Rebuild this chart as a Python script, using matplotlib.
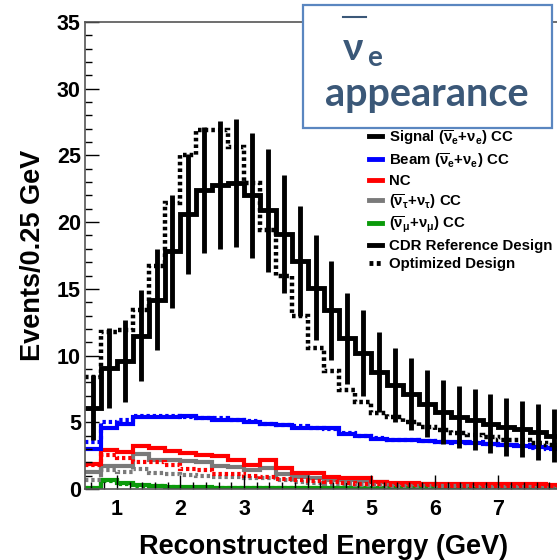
import numpy as np
import matplotlib
matplotlib.use("Agg")
import matplotlib.pyplot as plt
from matplotlib.lines import Line2D
from matplotlib.patches import Rectangle

plt.rcParams['font.family'] = ['Liberation Sans', 'DejaVu Sans']
plt.rcParams['mathtext.fontset'] = 'custom'
plt.rcParams['mathtext.rm'] = 'Liberation Sans:bold'
plt.rcParams['mathtext.it'] = 'Liberation Sans:bold'
plt.rcParams['mathtext.bf'] = 'Liberation Sans:bold'
plt.rcParams['mathtext.default'] = 'bf'

# bins of 0.25 GeV from 0.5 to 8 GeV
edges = np.arange(0.5, 8.01, 0.25)
centers = 0.5 * (edges[:-1] + edges[1:])

# signal, CDR reference design (solid) and optimized design (dotted)
sig_cdr = [6.1, 9.1, 9.6, 11.5, 14.2, 17.8, 20.6, 22.4, 22.8, 22.9,
           22.0, 20.9, 19.1, 17.1, 15.1, 13.4, 11.3, 10.2, 8.8, 7.8,
           7.1, 6.4, 5.8, 5.4, 5.2, 4.9, 4.65, 4.5, 4.3, 4.0]
sig_err = [2.45, 3.0, 3.1, 3.4, 3.8, 4.2, 4.5, 4.7, 4.8, 4.8,
           4.7, 4.6, 4.4, 4.1, 3.9, 3.7, 3.4, 3.2, 3.0, 2.8,
           2.7, 2.5, 2.4, 2.3, 2.3, 2.2, 2.15, 2.1, 2.1, 2.0]
sig_opt = [8.4, 11.8, 11.9, 13.4, 16.7, 21.4, 25.0, 26.9, 26.9, 25.6,
           22.9, 19.4, 16.0, 13.0, 10.6, 8.85, 7.4, 6.5, 5.7, 5.4,
           5.0, 4.65, 4.4, 4.2, 4.05, 3.9, 3.7, 3.7, 3.45, 3.3]

beam_cdr = [3.0, 4.6, 4.9, 5.4, 5.4, 5.4, 5.5, 5.3, 5.2, 5.2,
            5.0, 4.9, 4.8, 4.6, 4.6, 4.6, 4.1, 4.0, 3.75, 3.7,
            3.65, 3.6, 3.55, 3.5, 3.45, 3.4, 3.3, 3.2, 3.15, 3.05]
beam_opt = [3.5, 5.0, 5.2, 5.5, 5.5, 5.5, 5.4, 5.3, 5.3, 5.2,
            5.1, 4.9, 4.8, 4.7, 4.6, 4.5, 4.2, 4.0, 3.8, 3.7,
            3.7, 3.6, 3.5, 3.45, 3.5, 3.4, 3.3, 3.3, 3.1, 3.0]

nc_cdr = [1.9, 2.9, 2.8, 3.2, 3.1, 2.85, 2.7, 2.55, 2.5, 2.2,
          1.8, 2.2, 1.55, 1.2, 1.2, 0.9, 0.85, 0.8, 0.5, 0.45,
          0.45, 0.4, 0.4, 0.4, 0.4, 0.35, 0.35, 0.35, 0.35, 0.3]
nc_opt = [1.8, 2.55, 2.3, 2.0, 2.0, 1.8, 1.5, 1.4, 1.15, 1.1,
          0.95, 0.9, 0.75, 0.65, 0.6, 0.5, 0.45, 0.4, 0.35, 0.3,
          0.3, 0.3, 0.25, 0.25, 0.25, 0.25, 0.25, 0.2, 0.2, 0.2]

tau_cdr = [1.3, 1.7, 1.7, 2.6, 2.2, 2.2, 2.1, 2.0, 1.7, 1.65,
           1.4, 1.6, 1.1, 0.9, 0.8, 0.7, 0.65, 0.6, 0.5, 0.4,
           0.35, 0.35, 0.3, 0.3, 0.3, 0.25, 0.25, 0.25, 0.2, 0.2]
tau_opt = [0.7, 1.4, 1.3, 1.5, 1.2, 1.1, 1.05, 1.0, 0.9, 0.9,
           0.8, 0.8, 0.65, 0.5, 0.45, 0.4, 0.35, 0.3, 0.3, 0.25,
           0.2, 0.2, 0.2, 0.2, 0.15, 0.15, 0.15, 0.15, 0.1, 0.1]

mu_cdr = [0.1, 0.7, 0.45, 0.3, 0.2, 0.15, 0.15, 0.15, 0.1, 0.1,
          0.1, 0.1, 0.1, 0.08, 0.08, 0.08, 0.06, 0.06, 0.05, 0.05,
          0.05, 0.05, 0.04, 0.04, 0.04, 0.04, 0.03, 0.03, 0.03, 0.03]
mu_opt = [0.1, 0.6, 0.4, 0.25, 0.2, 0.15, 0.1, 0.1, 0.1, 0.08,
          0.08, 0.08, 0.06, 0.06, 0.05, 0.05, 0.05, 0.04, 0.04, 0.04,
          0.03, 0.03, 0.03, 0.03, 0.03, 0.02, 0.02, 0.02, 0.02, 0.02]

blue = '#0000ff'
red = '#ff0000'
gray = '#7a7a7a'
green = '#0a9a0a'
dots = (0, (0.8, 0.7))

fig = plt.figure(figsize=(5.57, 5.60), dpi=100)
ax = fig.add_axes([85 / 557, 1 - 489 / 560, 477 / 557, 467 / 560])

lw = 3.0
for vals, col in [(mu_cdr, green), (tau_cdr, gray), (nc_cdr, red), (beam_cdr, blue)]:
    ax.stairs(vals, edges, color=col, lw=lw, baseline=None)
for vals, col in [(mu_opt, green), (tau_opt, gray), (nc_opt, red), (beam_opt, blue)]:
    ax.stairs(vals, edges, color=col, lw=lw, ls=dots, baseline=None)

ax.stairs(sig_opt, edges, color='black', lw=3.2, ls=dots, baseline=None)
ax.stairs(sig_cdr, edges, color='black', lw=3.5, baseline=None)
ax.errorbar(centers, sig_cdr, yerr=sig_err, fmt='none', ecolor='black',
            elinewidth=3.5, capsize=0)

ax.set_xlim(0.5, 8.0)
ax.set_ylim(0, 35)
ax.set_xticks(range(1, 8))
ax.set_xticks(np.arange(0.6, 8.0, 0.2), minor=True)
ax.set_yticks(range(0, 36, 5))
ax.set_yticks(range(0, 36), minor=True)
ax.tick_params(which='both', direction='in', width=1.0, colors='black')
ax.tick_params(which='major', length=10, labelsize=15.5)
ax.tick_params(which='minor', length=5)
ax.tick_params(axis='y', pad=3)
ax.tick_params(axis='x', pad=7)
for lab in ax.get_xticklabels() + ax.get_yticklabels():
    lab.set_fontweight('bold')
for s in ax.spines.values():
    s.set_color('#555555')
    s.set_linewidth(1.2)

ax.set_xlabel('Reconstructed Energy (GeV)', fontsize=19.5, fontweight='bold', labelpad=10)
ax.set_ylabel('Events/0.25 GeV', fontsize=19.5, fontweight='bold', labelpad=8)

handles = [
    Line2D([], [], color='black', lw=3.5),
    Line2D([], [], color=blue, lw=3.5),
    Line2D([], [], color=red, lw=3.5),
    Line2D([], [], color=gray, lw=3.5),
    Line2D([], [], color=green, lw=3.5),
    Line2D([], [], color='black', lw=3.5),
    Line2D([], [], color='black', lw=3.5, ls=dots),
]
labels = [
    r'Signal ($\overline{\nu}_{e}$+$\nu_{e}$) CC',
    r'Beam ($\overline{\nu}_{e}$+$\nu_{e}$) CC',
    'NC',
    r'($\overline{\nu}_{\tau}$+$\nu_{\tau}$) CC',
    r'($\overline{\nu}_{\mu}$+$\nu_{\mu}$) CC',
    'CDR Reference Design',
    'Optimized Design',
]
leg = ax.legend(handles, labels, loc='upper left', frameon=False,
                bbox_to_anchor=(369 / 557, 1 - 128 / 560), bbox_transform=fig.transFigure,
                borderpad=0, borderaxespad=0, handlelength=0.85, handletextpad=0.5,
                labelspacing=0.28, prop={'weight': 'bold', 'size': 10.8})

# title box
box = Rectangle((303 / 557, 1 - 128 / 560), 249 / 557, 123 / 560, transform=fig.transFigure,
                facecolor='white', edgecolor='#5a86c0', lw=1.6, zorder=10)
fig.add_artist(box)
tcol = '#3b5878'
fig.text(343 / 557, 1 - 60 / 560, '\u03bd', fontsize=28, fontweight='bold', color=tcol,
         family=['Lato', 'DejaVu Sans'], zorder=11)
fig.text(367 / 557, 1 - 66 / 560, 'e', fontsize=20, fontweight='bold', color=tcol,
         family=['Lato', 'DejaVu Sans'], zorder=11)
fig.add_artist(Line2D([343 / 557, 366 / 557], [1 - 17 / 560, 1 - 17 / 560],
                      transform=fig.transFigure, color=tcol, lw=1.5, zorder=11))
fig.text(325 / 557, 1 - 106 / 560, 'appearance', fontsize=28.5, fontweight='bold', color=tcol,
         family=['Lato', 'DejaVu Sans'], zorder=11)

fig.savefig('out.png', dpi=100)
